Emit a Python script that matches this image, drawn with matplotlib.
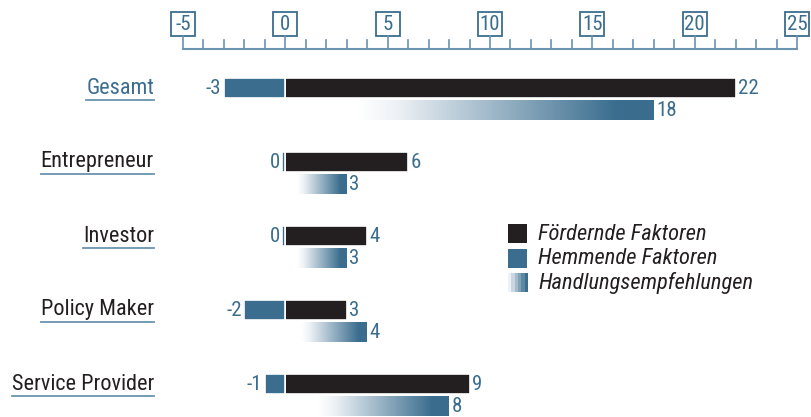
import numpy as np
import matplotlib
matplotlib.use('Agg')
import matplotlib.pyplot as plt
from matplotlib.colors import LinearSegmentedColormap
from matplotlib.patches import Rectangle

categories = ['Gesamt', 'Entrepreneur', 'Investor', 'Policy Maker', 'Service Provider']
foerdernd = [22, 6, 4, 3, 9]
hemmend = [-3, 0, 0, -2, -1]
handlung = [18, 3, 3, 4, 8]
tick_values = [-5, 0, 5, 10, 15, 20, 25]
legend_labels = ['Fördernde Faktoren', 'Hemmende Faktoren', 'Handlungsempfehlungen']

BLACK = '#231f20'
BLUE = '#3a6d8e'
AXBLUE = '#6a94b0'
FONT = ['Liberation Sans Narrow', 'Roboto Condensed', 'Roboto']

plt.rcParams['font.family'] = FONT
plt.rcParams['font.stretch'] = 'condensed'

W, H = 811, 417
fig = plt.figure(figsize=(W / 100, H / 100), dpi=100)
# axes: x from -5 (px 183) to 25 (px 797); one y unit = 74 px, row 0 at px 88
ax = fig.add_axes([183 / W, 0, 614 / W, 1])
ax.set_xlim(-5, 25)
ax.set_ylim((H - 88) / 74, -88 / 74)
ax.axis('off')

grad_cmap = LinearSegmentedColormap.from_list(
    'grad', [(0, 'white'), (0.2, 'white'), (0.3, '#eef2f6'), (0.9, BLUE), (1, BLUE)])
grad = np.linspace(0, 1, 256).reshape(1, -1)

bh = 20 / 74
off = 22 / 74
for i, cat in enumerate(categories):
    f, h, g = foerdernd[i], hemmend[i], handlung[i]
    ax.barh(i, f, height=bh, color=BLACK, edgecolor='white', linewidth=1.2)
    ax.barh(i, min(h, -0.15), height=bh, color=BLUE, edgecolor='white', linewidth=1.2)
    ax.imshow(grad, cmap=grad_cmap, aspect='auto', interpolation='bilinear',
              extent=[0, g, i + off + bh / 2, i + off - bh / 2])
    ax.text(f + 0.12, i, str(f), color=BLUE, fontsize=15, ha='left', va='center')
    ax.text(min(h, -0.15) - 0.12, i, str(h), color=BLUE, fontsize=15, ha='right', va='center')
    ax.text(g + 0.12, i + off, str(g), color=BLUE, fontsize=15, ha='left', va='center')

# top scale
y_base = (49 - 88) / 74
ax.plot([-5, 25], [y_base, y_base], color=AXBLUE, lw=1.5, clip_on=False)
for t in range(-5, 26):
    top = (36 - 88) / 74 if t in tick_values else (40 - 88) / 74
    ax.plot([t, t], [y_base, top], color=AXBLUE, lw=1.2, clip_on=False)
for t in tick_values:
    ax.add_patch(Rectangle((t - 0.58, (36 - 88) / 74), 1.16, -24 / 74, facecolor='white',
                           edgecolor=BLUE, lw=1.3, clip_on=False))
    ax.text(t, (25 - 88) / 74, str(t), color=BLUE, fontsize=15, ha='center', va='center')

# category labels with underline
fig.canvas.draw()
renderer = fig.canvas.get_renderer()
for i, cat in enumerate(categories):
    ypx = H - (88 + 74 * i)
    col = BLUE if i == 0 else BLACK
    t = fig.text(154 / W, ypx / H, cat, color=col, fontsize=16, ha='right', va='center')
    bb = t.get_window_extent(renderer)
    uy = (ypx - 12) / H
    fig.add_artist(plt.Line2D([bb.x0 / W, bb.x1 / W], [uy, uy], color=AXBLUE, lw=1.3))

# legend
colors = [BLACK, BLUE, None]
for k, lab in enumerate(legend_labels):
    ytop = 224 + 24.5 * k
    lax = fig.add_axes([508 / W, (H - ytop - 19) / H, 19 / W, 19 / H])
    lax.axis('off')
    if colors[k] is None:
        lax.imshow(np.linspace(0.3, 0.9, 6).reshape(1, -1), cmap=grad_cmap, vmin=0, vmax=1,
                   aspect='auto', interpolation='nearest', extent=[0, 1, 0, 1])
    else:
        lax.add_patch(Rectangle((0, 0), 1, 1, color=colors[k]))
    lax.set_xlim(0, 1)
    lax.set_ylim(0, 1)
    fig.text(538 / W, (H - ytop - 10) / H, lab, color=BLACK, fontsize=16.2,
             style='italic', ha='left', va='center')

fig.savefig('out.png', dpi=100)
